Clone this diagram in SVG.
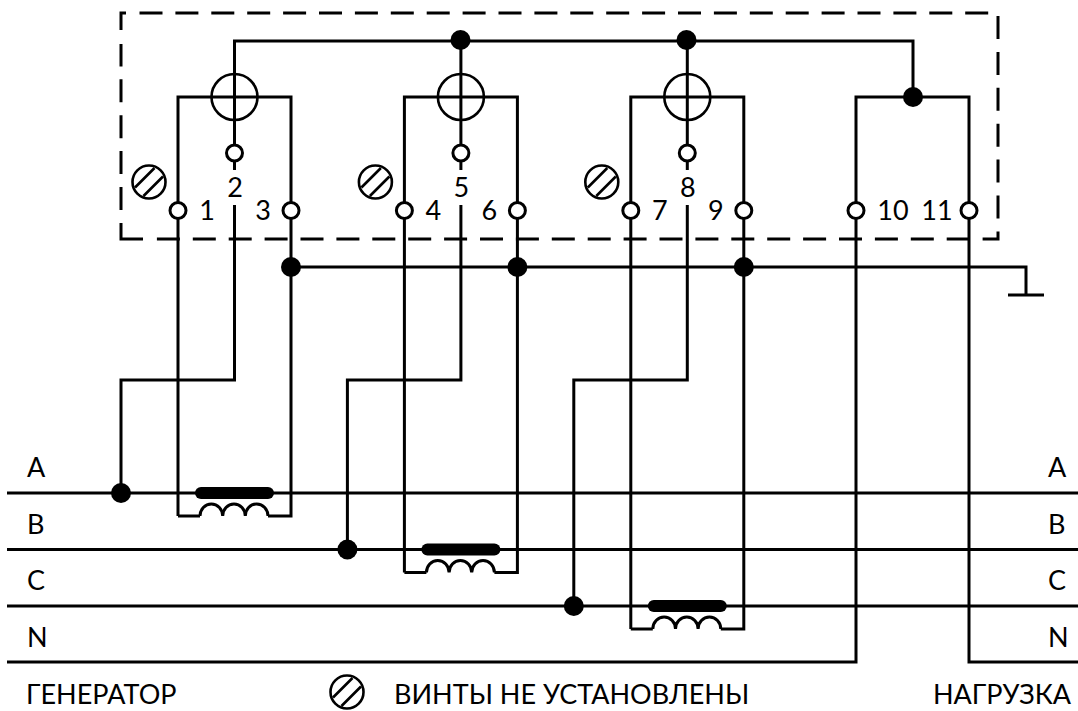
<svg xmlns="http://www.w3.org/2000/svg" xmlns:xlink="http://www.w3.org/1999/xlink" width="1078" height="711" viewBox="0 0 1078 711">
<style>
.w{fill:none;stroke:#000;stroke-width:3}
.d{stroke-dasharray:23 12.900}
.b{fill:#000;stroke:none}
.o{fill:#fff;stroke:#000;stroke-width:3}
.s{fill:none;stroke:#000;stroke-width:2.600}
text{font-family:"Lato","Open Sans","Liberation Sans",sans-serif;font-size:27px;fill:#000}
.m{text-anchor:middle}
</style>
<defs>
<g id="screw"><circle class="s" r="16.500"/><path class="s" d="M-14 5.500L5.500-14M-5.500 14L14-5.500"/></g>
</defs>
<g id="connectors">
<path class="w d" d="M998 16V239H156M121 210V44M139.500 13H989"/>
<path class="w" d="M143 239H121V223M121 30V13H126"/>
<path class="w" d="M234.500 97V41H913V97"/>
<path class="w" d="M291 267H1026V295M1008 295H1044"/>
<path class="w" d="M7 493H1078M7 549.500H1078M7 606H1078M7 662H856V97H969V662H1078"/>
</g>
<g id="unit1">
<path class="w" d="M178 516V97H291V516H268M178 516H200"/>
<path class="w" d="M200 516a11.300 12 0 0 1 22.700 0a11.300 12 0 0 1 22.600 0a11.300 12 0 0 1 22.700 0"/>
<path class="w" d="M234.500 97V170M234.500 205V380H121V493"/>
<circle class="s" cx="234.500" cy="97" r="23"/>
<rect class="b" x="195" y="487" width="79" height="12" rx="6"/>
<circle class="o" cx="234.500" cy="153" r="8"/><circle class="o" cx="178" cy="210.500" r="8"/><circle class="o" cx="291" cy="210.500" r="8"/>
<circle class="b" cx="291" cy="267" r="10"/><circle class="b" cx="121" cy="493" r="10"/>
<use xlink:href="#screw" x="149" y="182"/>
<text class="m" x="207" y="220">1</text><text class="m" x="235" y="197">2</text><text class="m" x="263" y="220">3</text>
</g>
<g id="unit2">
<path class="w" d="M404.400 572.500V97H517.400V572.500H494.400M404.400 572.500H426.400"/>
<path class="w" d="M426.400 572.500a11.300 12 0 0 1 22.700 0a11.300 12 0 0 1 22.600 0a11.300 12 0 0 1 22.700 0"/>
<path class="w" d="M460.900 41V170M460.900 205V380H347.400V549.500"/>
<circle class="s" cx="460.900" cy="97" r="23"/>
<rect class="b" x="421.400" y="543.500" width="79" height="12" rx="6"/>
<circle class="o" cx="460.900" cy="153" r="8"/><circle class="o" cx="404.400" cy="210.500" r="8"/><circle class="o" cx="517.400" cy="210.500" r="8"/>
<circle class="b" cx="517.400" cy="267" r="10"/><circle class="b" cx="347.400" cy="549.500" r="10"/><circle class="b" cx="460.500" cy="40" r="10"/>
<use xlink:href="#screw" x="375.400" y="182"/>
<text class="m" x="433.400" y="220">4</text><text class="m" x="461.400" y="197">5</text><text class="m" x="489.400" y="220">6</text>
</g>
<g id="unit3">
<path class="w" d="M630.800 629V97H743.800V629H720.800M630.800 629H652.800"/>
<path class="w" d="M652.800 629a11.300 12 0 0 1 22.700 0a11.300 12 0 0 1 22.600 0a11.300 12 0 0 1 22.700 0"/>
<path class="w" d="M687.300 41V170M687.300 205V380H573.800V606"/>
<circle class="s" cx="687.300" cy="97" r="23"/>
<rect class="b" x="647.800" y="600" width="79" height="12" rx="6"/>
<circle class="o" cx="687.300" cy="153" r="8"/><circle class="o" cx="630.800" cy="210.500" r="8"/><circle class="o" cx="743.800" cy="210.500" r="8"/>
<circle class="b" cx="743.800" cy="267" r="10"/><circle class="b" cx="573.800" cy="606" r="10"/><circle class="b" cx="686.500" cy="40" r="10"/>
<use xlink:href="#screw" x="601.800" y="182"/>
<text class="m" x="659.800" y="220">7</text><text class="m" x="687.800" y="197">8</text><text class="m" x="715.800" y="220">9</text>
</g>
<g id="unit4">
<circle class="b" cx="913" cy="97" r="10"/>
<circle class="o" cx="856" cy="210.500" r="8"/><circle class="o" cx="969" cy="210.500" r="8"/>
<text class="m" x="893" y="220">10</text><text class="m" x="937" y="220">11</text>
</g>
<g id="labels">
<text x="27" y="477">A</text><text x="27" y="534">B</text><text x="27" y="590">C</text><text x="27" y="647">N</text>
<text x="1048" y="477">A</text><text x="1048" y="534">B</text><text x="1048" y="590">C</text><text x="1048" y="647">N</text>
<text x="26" y="704">ГЕНЕРАТОР</text>
<text x="394" y="704">ВИНТЫ НЕ УСТАНОВЛЕНЫ</text>
<text x="933" y="704">НАГРУЗКА</text>
<use xlink:href="#screw" x="347" y="692"/>
</g>
</svg>
